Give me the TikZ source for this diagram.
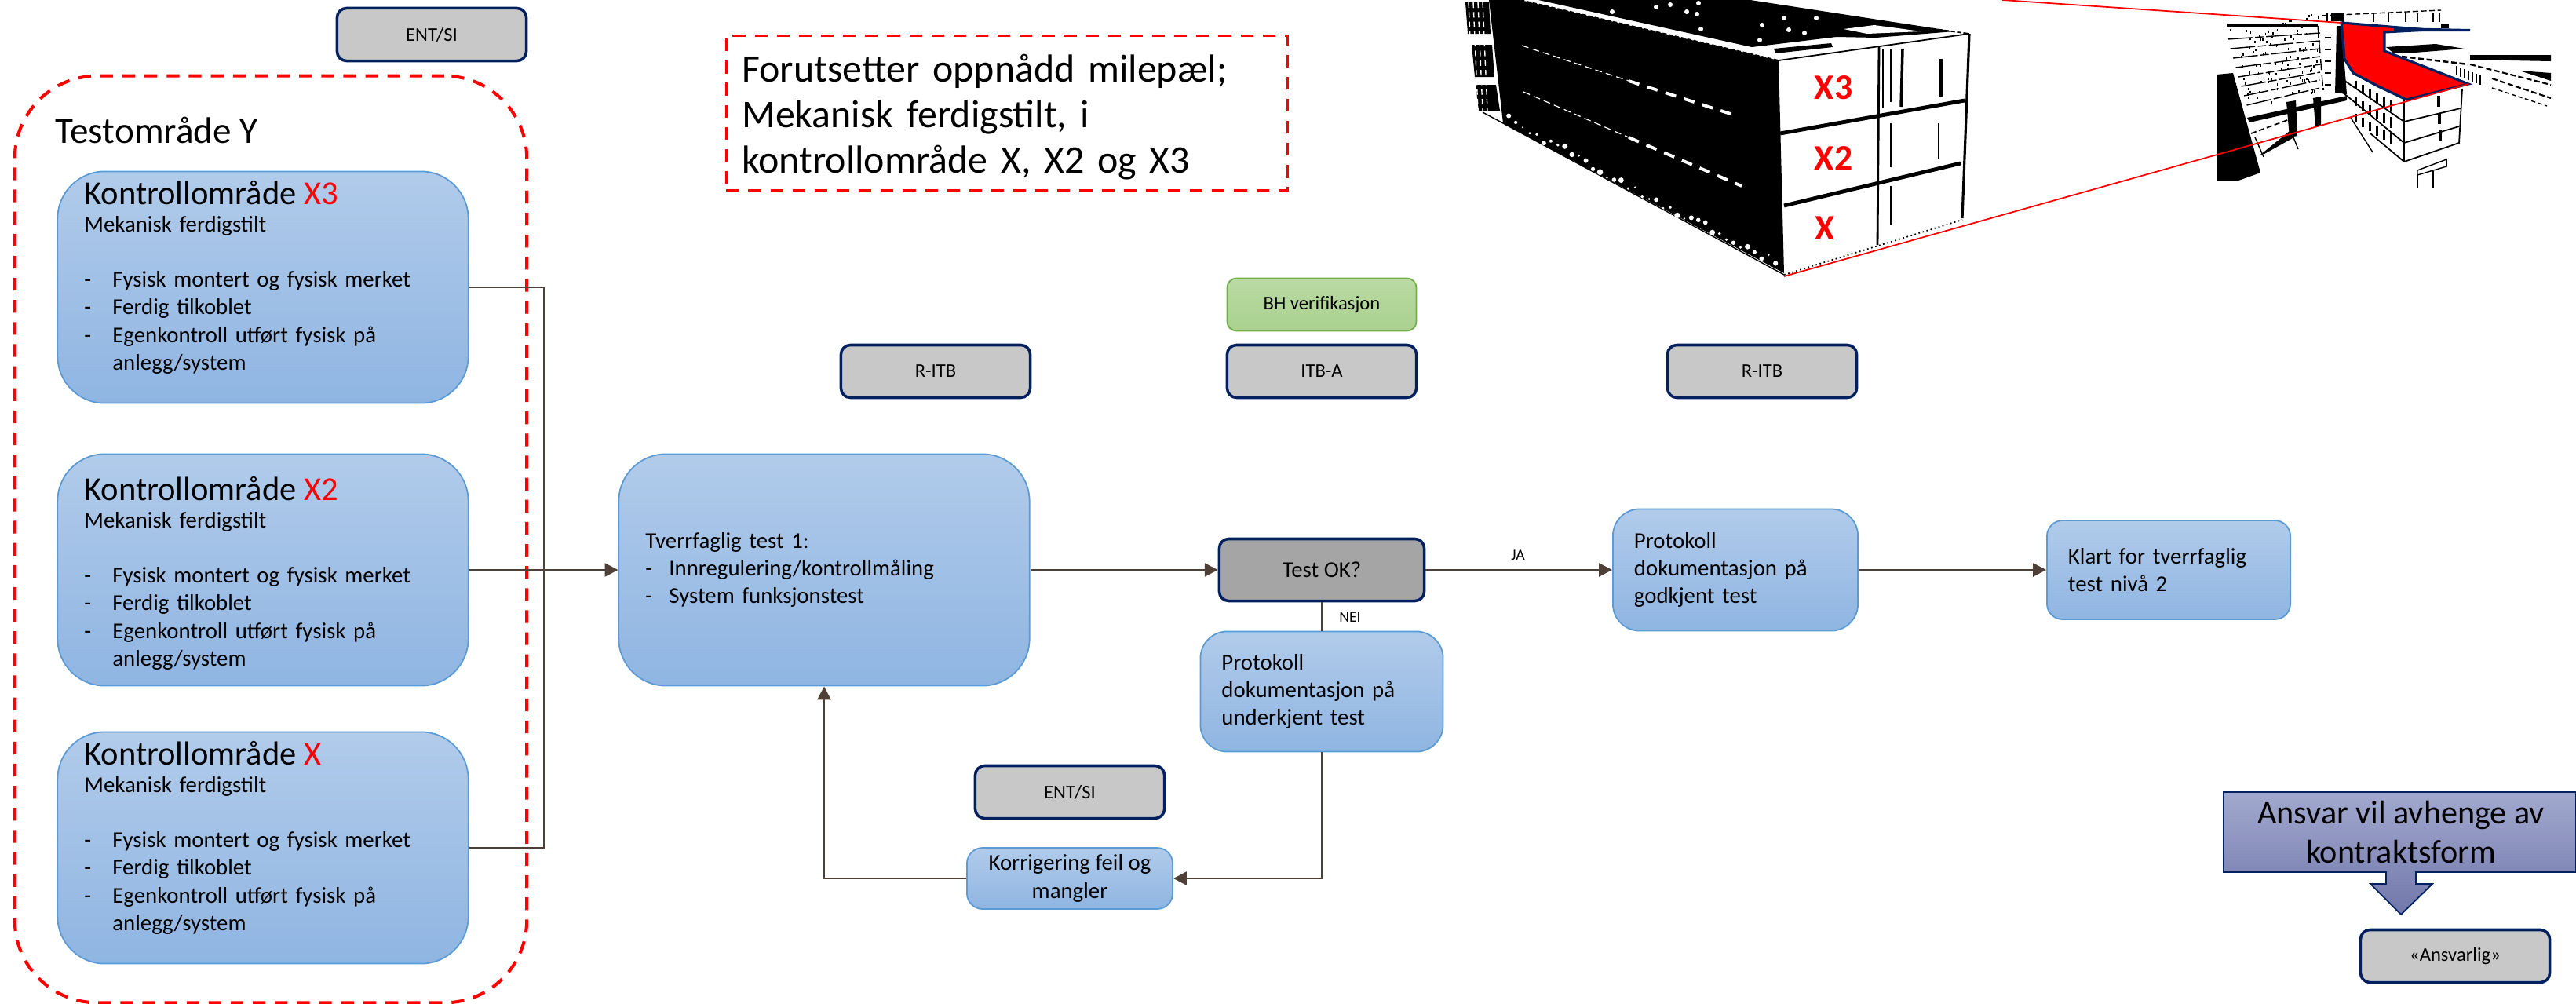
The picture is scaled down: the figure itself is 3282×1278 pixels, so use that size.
\documentclass[tikz,border=0pt]{standalone}
\usepackage{fontspec}
\setmainfont{Carlito}
\usetikzlibrary{arrows.meta}
\definecolor{blaatopp}{HTML}{B1CBEA}
\definecolor{blaabunn}{HTML}{8FB5E2}
\definecolor{blaakant}{HTML}{5B9BD5}
\definecolor{marine}{HTML}{002060}
\definecolor{graalys}{HTML}{C8C8C8}
\definecolor{graamork}{HTML}{A5A5A5}
\definecolor{brun}{HTML}{4E4036}
\definecolor{groenn}{HTML}{A9D18E}
\definecolor{groennkant}{HTML}{70AD47}
\definecolor{ansvartopp}{HTML}{A2A9CE}
\definecolor{ansvarbunn}{HTML}{7177AA}
\newcommand{\punkt}{\makebox[0.36cm][l]{-}}
\tikzset{
  blaa/.style={draw=blaakant,line width=0.5pt,top color=blaatopp,bottom color=blaabunn,
    align=left,inner xsep=0.34cm,inner ysep=0pt,font=\fontsize{8.2}{10}\selectfont},
  graa/.style={draw=marine,line width=1pt,fill=graalys,rounded corners=0.12cm,
    minimum width=2.41cm,minimum height=0.67cm,inner sep=0pt,font=\fontsize{7}{8}\selectfont},
  flyt/.style={draw=brun,line width=0.75pt},
  pil/.style={flyt,-{Triangle[length=4.8pt,width=4.8pt]}},
  rodstrek/.style={draw=red,line width=1.15pt,dash pattern=on 4.6pt off 3.4pt},
  siktlinje/.style={draw=red,line width=0.5pt},
  merke/.style={text=red,inner sep=0pt,font=\fontsize{13}{15}\bfseries\selectfont}
}
\begin{document}
\begin{tikzpicture}[x=0.01cm,y=-0.01cm]
  \useasboundingbox (0,0) rectangle (3282,1278);
  \pgfmathsetseed{11}

  \node[rodstrek,rounded corners=1.05cm,minimum width=6.52cm,minimum height=11.8cm,inner sep=0pt] (testomraade) at (345,687) {};
  \node[anchor=base west,inner sep=0pt,font=\fontsize{13.4}{15}\selectfont] (testnavn) at (70,182) {Testområde Y};
  \node[graa] (entsi1) at (550,44) {ENT/SI};

  \foreach \navn/\ypos/\merket/\bunn in {x3/366/X3/-1.4pt,x2/726/X2/-11pt,x1/1080/X/-1.4pt}{
    \node[blaa,rounded corners=0.6cm,minimum width=5.23cm,minimum height=2.95cm,text width=4.55cm] (\navn) at (335,\ypos)
      {{\fontsize{12.1}{14}\selectfont Kontrollområde \textcolor{red}{\merket}}\\
       Mekanisk ferdigstilt\\[9.9pt]
       \punkt Fysisk montert og fysisk merket\\
       \punkt Ferdig tilkoblet\\
       \punkt Egenkontroll utført fysisk på\\
       \hphantom{\punkt}anlegg/system\\[\bunn]\mbox{}};
  }

  \node[blaa,rounded corners=0.6cm,minimum width=5.23cm,minimum height=2.95cm,text width=4.55cm] (tverrtest) at (1050,726)
    {Tverrfaglig test 1:\\
     \makebox[0.3cm][l]{-}Innregulering/kontrollmåling\\
     \makebox[0.3cm][l]{-}System funksjonstest};
  \node[graa] (ritb1) at (1192,473) {R-ITB};
  \node[graa] (bhver) at (1684,388) [draw=groennkant,line width=0.5pt,fill=none,top color=groenn!80,bottom color=groenn] {BH verifikasjon};
  \node[graa] (itba) at (1684,473) {ITB-A};
  \node[graa] (ritb2) at (2245,473) {R-ITB};
  \node[graa,fill=graamork,minimum width=2.61cm,minimum height=0.79cm,font=\fontsize{8.2}{10}\selectfont] (testok) at (1684,726) {Test OK?};
  \node[blaa,rounded corners=0.34cm,minimum width=3.09cm,minimum height=1.53cm,inner xsep=0.27cm,text width=2.55cm] (protnei) at (1684,881)
    {Protokoll\\dokumentasjon på\\underkjent test};
  \node[blaa,rounded corners=0.34cm,minimum width=3.12cm,minimum height=1.55cm,inner xsep=0.27cm,text width=2.58cm] (protja) at (2211,726)
    {Protokoll\\dokumentasjon på\\godkjent test};
  \node[blaa,rounded corners=0.2cm,minimum width=3.1cm,minimum height=1.26cm,inner xsep=0.27cm,text width=2.56cm] (klart) at (2763,726)
    {Klart for tverrfaglig\\test nivå 2};
  \node[graa] (entsi2) at (1363,1009) {ENT/SI};
  \node[blaa,rounded corners=0.2cm,minimum width=2.62cm,minimum height=0.78cm,align=center,inner xsep=0pt] (korr) at (1363,1119)
    {Korrigering feil og\\mangler};

  \coordinate (samle) at (693,726);
  \draw[flyt] (x3.east) -| (samle);
  \draw[flyt] (x1.east) -| (samle);
  \draw[pil] (x2.east) -- (tverrtest.west);
  \draw[pil] (tverrtest.east) -- (testok.west);
  \draw[pil] (testok.east) -- (protja.west);
  \draw[pil] (protja.east) -- (klart.west);
  \draw[flyt] (testok.south) -- (protnei.north);
  \draw[pil] (protnei.south) |- (korr.east);
  \draw[pil] (korr.west) -| (tverrtest.south);
  \node[inner sep=0pt,font=\fontsize{5.6}{7}\selectfont] (ja) at (1934,707) {JA};
  \node[inner sep=0pt,font=\fontsize{5.6}{7}\selectfont] (nei) at (1720,786) {NEI};

  \node[rodstrek,line width=0.9pt,minimum width=7.15cm,minimum height=1.97cm,text width=6.75cm,align=left,inner sep=0pt,font=\fontsize{14.2}{16.5}\selectfont] (forutsetter) at (1283,144)
    {\mbox{}\\[-3.5pt]Forutsetter oppnådd milepæl;\\Mekanisk ferdigstilt, i\\kontrollområde X, X2 og X3};

  \draw[draw=marine,line width=0.5pt,top color=ansvartopp,bottom color=ansvarbunn]
    (2833,1009) -- (3282,1009) -- (3282,1111) -- (3078,1111) -- (3078,1126) -- (3099,1126) -- (3059,1165)
    -- (3020,1126) -- (3040,1126) -- (3040,1111) -- (2833,1111) -- cycle;
  \node[align=center,inner sep=0pt,font=\fontsize{12}{14.2}\selectfont] (ansvar) at (3059,1060) {Ansvar vil avhenge av\\kontraktsform};
  \node[graa] (ansvarlig) at (3128,1218) {«Ansvarlig»};

  % bygning
  \fill[black] (1897,0) -- (1937,0) -- (2266,77) -- (2273,348) -- (1915,157) -- cycle;
  \fill[black] (1867,3) -- (1897,3) -- (1899,43) -- (1870,43) -- cycle;
  \fill[black] (1875,57) -- (1901,57) -- (1904,98) -- (1879,98) -- cycle;
  \fill[black] (1880,108) -- (1906,108) -- (1911,141) -- (1884,141) -- cycle;
  \foreach \n in {0,...,3}{
    \draw[white,line width=0.4pt,dash pattern=on 2pt off 1.5pt] ({1871+6*\n},3) -- ({1877+6*\n},141);
  }
  \draw[black,line width=0.4pt] (1889,143) -- (2273,350);
  \foreach \t in {0.02,0.045,...,0.98}{
    \pgfmathsetmacro{\bitt}{1+rnd*3}
    \pgfmathsetmacro{\innover}{rnd*14}
    \fill[white] ({1915+358*\t},{157+191*\t-\innover}) circle (\bitt);
  }
  \draw[white,line width=0.35pt,dash pattern=on 2.5pt off 1.5pt] (1939,58) -- (2075,103);
  \draw[white,line width=1.1pt,dash pattern=on 4pt off 3pt] (2075,103) -- (2214,148);
  \draw[white,line width=0.35pt,dash pattern=on 2.5pt off 1.5pt] (1941,117) -- (2075,175);
  \draw[white,line width=1.1pt,dash pattern=on 4pt off 3pt] (2075,175) -- (2219,237);
  \fill[black] (1960,0) -- (2230,0) -- (2490,40) -- (2390,48) -- (2340,47) -- (2232,60) -- cycle;
  \fill[white] (2349,37) -- (2388,32) -- (2448,40) -- (2379,43) -- cycle;
  \foreach \p/\q in {2054/15,2110/9,2128/6,2162/18,2149/15,2167/37,2245/32,2279/38,2299/42,2242/51,2273/23,2314/23,2164/4}{
    \fill[white] (\p,\q) circle (3);
  }
  \draw[black,line width=0.5pt,dash pattern=on 1.5pt off 0.8pt] (1937,0) -- (2266,77);
  \draw[black,line width=0.5pt,dash pattern=on 1.5pt off 0.8pt] (2197,0) -- (2509,43);
  \draw[black,line width=0.5pt] (2266,77) -- (2509,43);
  \fill[black] (2260,62) -- (2333,55) -- (2335,60) -- (2262,68) -- cycle;
  \draw[black,line width=0.9pt] (2509,43) -- (2500,278);
  \draw[black,line width=0.5pt,densely dotted] (2273,350) -- (2500,280);
  \draw[black,line width=1.4pt] (2268,170) -- (2503,128);
  \draw[black,line width=1.4pt] (2273,262) -- (2498,208);
  \draw[black,line width=0.8pt] (2394,60) -- (2392,312);
  \draw[black,line width=0.8pt] (2399,62) -- (2399,138);
  \draw[black,line width=1pt] (2424,62) -- (2422,136);
  \draw[black,line width=0.5pt] (2409,63) -- (2409,130);
  \draw[black,line width=1.1pt] (2473,75) -- (2473,123);
  \draw[black,line width=0.8pt] (2470,157) -- (2470,203);
  \draw[black,line width=0.7pt] (2409,157) -- (2409,213);
  \draw[black,line width=0.7pt] (2409,237) -- (2409,287);
  \node[merke] (merkex3) at (2336,112) {X3};
  \node[merke] (merkex2) at (2336,201) {X2};
  \node[merke] (merkex1) at (2325,291) {X};

  % foto
  \fill[black] (2824,95) -- (2845,93) -- (2880,220) -- (2852,230) -- (2824,230) -- cycle;
  \fill[black] (2837,30) -- (2953,30) -- (2953,34) -- (2837,34) -- cycle;
  \foreach \r in {0,...,7}{
    \draw[black,line width=0.4pt,dash pattern=on 9pt off 1pt on 3pt off 1pt] ({2838+3.5*\r},{50+12*\r}) -- (2956,{42+10*\r});
  }
  \foreach \n in {1,...,110}{
    \pgfmathsetmacro{\hu}{rnd}
    \pgfmathsetmacro{\hv}{rnd}
    \pgfmathsetmacro{\hx}{2840+\hv*28+\hu*(115-\hv*20)}
    \pgfmathsetmacro{\hy}{36+\hv*100-\hu*20}
    \draw[black,line width=0.45pt] (\hx,\hy) -- ++(0,3);
  }
  \draw[black,line width=0.4pt,dash pattern=on 4pt off 2pt] (2953,33) -- (2960,117);
  \foreach \r in {0,...,4}{
    \draw[black,line width=0.5pt] (2962,{48+15*\r}) -- (2970,{48+15*\r});
  }
  \fill[black] (2977,33) -- (2983,33) -- (2990,120) -- (2975,118) -- cycle;
  \fill[black] (2863,150) -- (2990,122) -- (2990,128) -- (2866,156) -- cycle;
  \fill[black] (2913,130) -- (2925,128) -- (2927,173) -- (2917,175) -- cycle;
  \fill[black] (2947,125) -- (2957,123) -- (2957,160) -- (2950,162) -- cycle;
  \fill[black] (2880,197) -- (2917,167) -- (2921,176) -- (2885,196) -- cycle;
  \draw[black,line width=0.5pt,dash pattern=on 2pt off 1pt] (2868,170) -- (2917,152);
  \draw[black,line width=0.4pt] (2873,175) -- (2884,200);
  \draw[black,line width=0.4pt] (2920,170) -- (2928,190);
  \draw[black,line width=0.4pt] (2995,150) -- (3023,194);
  \draw[black,line width=0.4pt,dash pattern=on 2pt off 1pt] (2958,20) -- (3110,13);
  \foreach \s in {2965,2985,3024,3043,3065,3080,3100,3108}{
    \draw[black,line width=0.4pt] (\s,17) -- (\s,28);
  }
  \fill[black] (2970,17) -- (2987,17) -- (2987,27) -- (2970,27) -- cycle;
  \fill[black] (3110,30) -- (3120,30) -- (3120,36) -- (3110,36) -- cycle;
  \fill[black] (3040,60) -- (3103,56) -- (3140,62) -- (3077,67) -- (3050,68) -- cycle;
  \draw[black,line width=0.5pt] (2983,100) -- (3063,155);
  \draw[black,line width=0.5pt] (2985,118) -- (3063,182);
  \draw[black,line width=0.5pt] (3020,170) -- (3063,206) -- (3133,182) -- (3137,113);
  \draw[black,line width=0.5pt] (3063,128) -- (3063,206);
  \draw[black,line width=0.5pt] (3063,155) -- (3135,138);
  \draw[black,line width=0.5pt] (3063,182) -- (3133,161);
  \foreach \v in {0,...,5}{
    \foreach \w in {0,1,2}{
      \fill[black] ({3000+9*\v},{103+5*\v+21*\w}) rectangle ++(3,{11+0.5*\v});
    }
  }
  \foreach \w in {0,1,2}{
    \fill[black] ({3105+\w},{122+22*\w}) rectangle ++(4,14);
  }
  \draw[black,line width=0.4pt] (3080,217) -- (3117,203) -- (3117,212) -- (3080,223) -- cycle;
  \draw[black,line width=0.4pt] (3080,223) -- (3080,240);
  \draw[black,line width=0.4pt] (3100,218) -- (3100,240);
  \fill[black] (3147,70) -- (3250,70) -- (3250,78) -- (3147,76) -- cycle;
  \fill[black] (3210,90) -- (3250,93) -- (3250,103) -- cycle;
  \draw[black,line width=0.6pt,dash pattern=on 2pt off 1pt] (3147,82) -- (3250,108);
  \draw[black,line width=0.6pt,dash pattern=on 2pt off 1pt] (3175,100) -- (3250,125);
  \draw[black,line width=0.4pt,dash pattern=on 1.5pt off 1pt] (3175,112) -- (3245,135);
  \draw[black,line width=0.7pt,dash pattern=on 2pt off 1pt] (3060,72) -- (3145,82);
  \foreach \s in {0,...,6}{
    \draw[black,line width=0.5pt] ({3130+5*\s},{84+2*\s}) -- ++(0,12);
  }
  \draw[draw=marine,fill=red,line width=0.9pt] (2983,29) -- (3093,38) -- (3038,41) -- (3038,65) -- (3145,107) -- (3066,127) -- (3030,110) -- (2998,93) -- (2987,75) -- cycle;
  \fill[marine] (3050,35) -- (3147,37) -- (3147,40) -- (3050,40) -- cycle;
  \draw[siktlinje] (2551,0) -- (2983,29);
  \draw[siktlinje] (2273,352) -- (3145,107);
\end{tikzpicture}
\end{document}
